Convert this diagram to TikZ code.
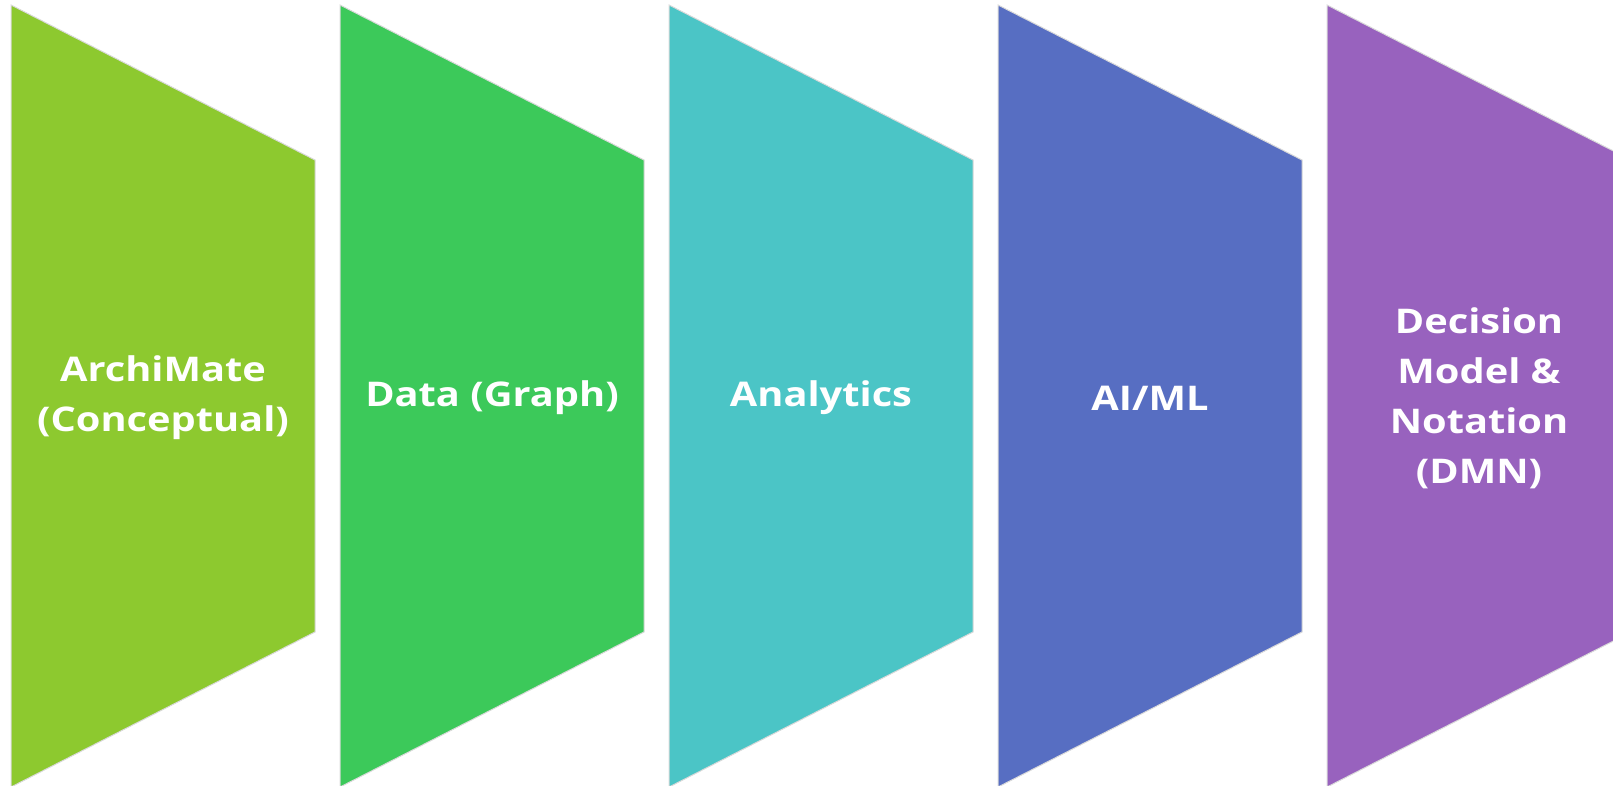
\documentclass[tikz,border=0pt]{standalone}
\usepackage{fontspec}
\setmainfont{Open Sans}[FakeStretch=1.17]
\usetikzlibrary{positioning}

\definecolor{stageA}{HTML}{8DC92F}
\definecolor{stageB}{HTML}{3CC95A}
\definecolor{stageC}{HTML}{4BC5C6}
\definecolor{stageD}{HTML}{576EC2}
\definecolor{stageE}{HTML}{9862BE}

\begin{document}
\begin{tikzpicture}
      [
        x=0.5pt, y=-0.5pt,
        stage/.style={draw=black!15, line width=0.5pt},
        caption/.style={text=white, font=\fontsize{17}{25}\selectfont\bfseries,
          align=center}
      ]
      \useasboundingbox (0,0) rectangle (1613,786);
      % funnel stages
      \foreach \i/\name/\col/\txt in {
          0/archimate/stageA/{ArchiMate\\(Conceptual)},
          1/data/stageB/{Data (Graph)},
          2/analytics/stageC/{Analytics},
          3/aiml/stageD/{AI/ML},
          4/dmn/stageE/{Decision\\Model \&\\Notation\\(DMN)}} {
          \pgfmathsetmacro{\left}{11+329*\i}
          \filldraw [stage, fill=\col]
            (\left,5) -- (\left+304,160) -- (\left+304,632) -- (\left,787) -- cycle;
          \node [caption] (\name) at (\left+152,398) {\txt};
      }
    \end{tikzpicture}
\end{document}
